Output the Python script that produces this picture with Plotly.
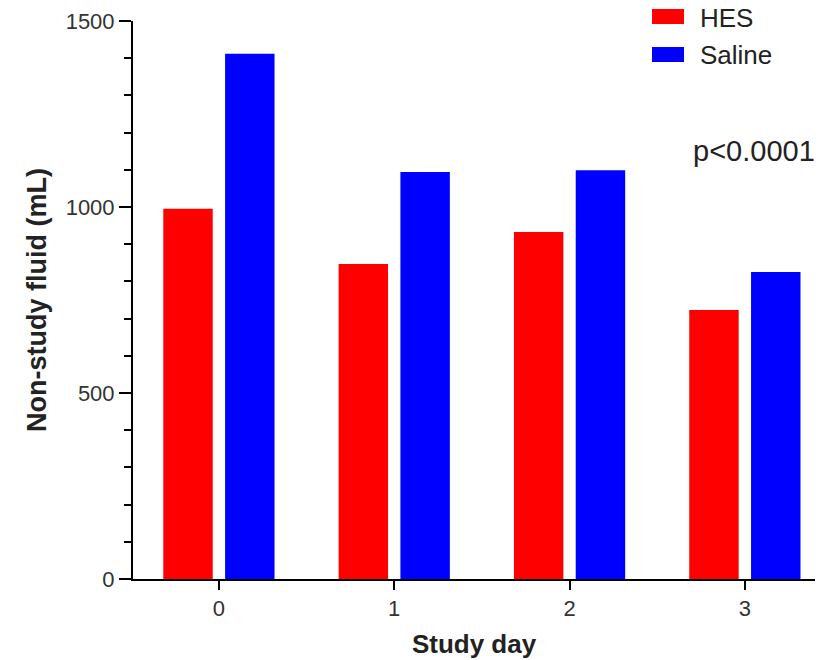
import plotly.graph_objects as go

days = [0, 1, 2, 3]
day_labels = ["0", "1", "2", "3"]
hes = [995, 847, 933, 723]
saline = [1412, 1094, 1099, 825]
series_names = ["HES", "Saline"]
series_colors = ["#FF0000", "#0000FF"]
y_ticks = [0, 500, 1000, 1500]
p_text = "p<0.0001"

FONT = "Arial, Liberation Sans, sans-serif"

FW, FH = 824, 660

fig = go.Figure()
for name, vals, col in zip(series_names, [hes, saline], series_colors):
    fig.add_trace(go.Bar(x=days, y=vals, name=name, marker=dict(color=col, line=dict(width=0)),
                         showlegend=False))

# plot area in page pixels: x 133..815, y 21..579
L, R, T, B = 133, 815, 21, 579
W, H = R - L, B - T
def px(x):
    return (x - L) / W
def py(y):
    return (B - y) / H

shapes = []
annotations = []
legend_rows = [(9, 24), (47, 62)]
for (y0, y1), name, col in zip(legend_rows, series_names, series_colors):
    shapes.append(dict(type="rect", xref="paper", yref="paper", x0=px(652), x1=px(684),
                       y0=py(y1), y1=py(y0), fillcolor=col, line=dict(width=0)))
    annotations.append(dict(xref="paper", yref="paper", x=px(698), y=py((y0 + y1) / 2 + 1),
                            xanchor="left", yanchor="middle", text=name, showarrow=False,
                            font=dict(family=FONT, size=26, color="#222")))
annotations.append(dict(xref="paper", yref="paper", x=px(691), y=py(151), xanchor="left",
                        yanchor="middle", text=p_text, showarrow=False,
                        font=dict(family=FONT, size=29, color="#222")))

fig.update_layout(
    width=FW, height=FH,
    margin=dict(l=L, r=FW - R, t=T, b=FH - B, autoexpand=False),
    paper_bgcolor="white", plot_bgcolor="white",
    barmode="group", bargap=0.295, bargroupgap=0.2,
    shapes=shapes, annotations=annotations,
    font=dict(family=FONT, color="#333"),
    xaxis=dict(range=[-0.49, 3.40], tickmode="array", tickvals=days, ticktext=day_labels,
               automargin=False,
               showgrid=False, zeroline=False, showline=True, linecolor="black", linewidth=2,
               ticks="outside", ticklen=9, tickwidth=2, tickcolor="black",
               tickfont=dict(size=22, color="#333"),
               title=dict(text="<b>Study day</b>", font=dict(size=26, color="#222"), standoff=14)),
    yaxis=dict(range=[0, 1500], tickmode="array", tickvals=y_ticks,
               automargin=False,
               showgrid=False, zeroline=False, showline=True, linecolor="black", linewidth=2,
               ticks="outside", ticklen=12, tickwidth=2, tickcolor="black",
               tickfont=dict(size=22, color="#333"),
               minor=dict(dtick=100, ticks="outside", ticklen=7, tickwidth=2, tickcolor="black",
                          showgrid=False),
               title=dict(text="<b>Non-study fluid (mL)</b>", font=dict(size=27, color="#222"),
                          standoff=11)),
)

fig.write_html("out.html", config={"displayModeBar": False},
               post_script="document.body.style.margin='0';")
